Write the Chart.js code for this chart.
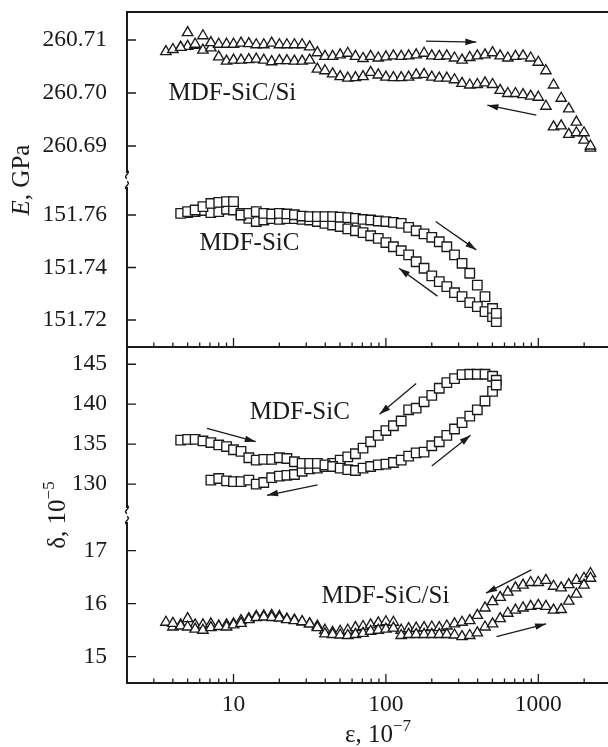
<!DOCTYPE html>
<html>
<head>
<meta charset="utf-8">
<script src="https://cdn.jsdelivr.net/npm/chart.js@4.4.1/dist/chart.umd.min.js"></script>
<style>
    html, body { margin: 0; padding: 0; background: #fff; overflow: hidden; }
    #wrap { width: 640px; height: 747px; }
</style>
</head>
<body>
<div id="wrap"><canvas id="chart" width="640" height="747"></canvas></div>
<script>
// strain amplitude, 10^-7
const epsSiCSi = [3.6, 4.0, 4.5, 5.0, 5.6, 6.3, 7.1, 8.0, 9.0, 10,
    11.2, 12.6, 14.1, 15.8, 17.8, 20, 22.4, 25.1, 28.2, 31.6,
    35.5, 39.8, 44.7, 50.1, 56.2, 63.1, 70.8, 79.4, 89.1, 100,
    112, 126, 141, 158, 178, 200, 224, 251, 282, 316,
    355, 398, 447, 501, 562, 631, 708, 794, 891, 1000,
    1122, 1259, 1413, 1585, 1778, 1995, 2200];
const epsSiC = [4.5, 5.0, 5.6, 6.3, 7.1, 8.0, 9.0, 10, 11.2, 12.6,
    14.1, 15.8, 17.8, 20, 22.4, 25.1, 28.2, 31.6, 35.5, 39.8,
    44.7, 50.1, 56.2, 63.1, 70.8, 79.4, 89.1, 100, 112, 126,
    141, 158, 178, 200, 224, 251, 282, 316, 355, 398,
    447, 501, 530];

// E, GPa  MDF-SiC/Si
const eSiCSiUp = [260.7078, 260.7082, 260.7086, 260.7114, 260.7092, 260.7108, 260.7095, 260.7092, 260.7092, 260.7092,
    260.7094, 260.7093, 260.7091, 260.7091, 260.7094, 260.7091, 260.7091, 260.7091, 260.7091, 260.7087,
    260.7076, 260.7069, 260.7069, 260.7072, 260.7075, 260.7069, 260.7065, 260.7069, 260.7066, 260.7068,
    260.7070, 260.7069, 260.7070, 260.7072, 260.7075, 260.7070, 260.7069, 260.7070, 260.7066, 260.7062,
    260.7067, 260.7070, 260.7072, 260.7076, 260.7070, 260.7066, 260.7069, 260.7070, 260.7066, 260.7058,
    260.7042, 260.7015, 260.6990, 260.6970, 260.6945, 260.6925, 260.6900];
const eSiCSiDown = [null, null, 260.7086, 260.7088, 260.7090, 260.7081, 260.7085, 260.7068, 260.7060, 260.7062,
    260.7062, 260.7063, 260.7064, 260.7062, 260.7059, 260.7061, 260.7061, 260.7060, 260.7060, 260.7062,
    260.7045, 260.7042, 260.7036, 260.7031, 260.7028, 260.7029, 260.7031, 260.7039, 260.7034, 260.7030,
    260.7029, 260.7029, 260.7030, 260.7034, 260.7035, 260.7030, 260.7028, 260.7028, 260.7025, 260.7018,
    260.7015, 260.7016, 260.7019, 260.7016, 260.7005, 260.6999, 260.6999, 260.6997, 260.6994, 260.6992,
    260.6975, 260.6936, 260.6938, 260.6922, 260.6925, 260.6911, 260.6896];

// E, GPa  MDF-SiC
const eSiCUp = [151.7606, 151.7613, 151.7619, 151.7632, 151.7644, 151.7648, 151.7651, 151.7651, 151.7600, 151.7606,
    151.7613, 151.7606, 151.7604, 151.7606, 151.7604, 151.7601, 151.7596, 151.7594, 151.7594, 151.7594,
    151.7594, 151.7592, 151.7590, 151.7587, 151.7583, 151.7581, 151.7577, 151.7575, 151.7572, 151.7568,
    151.7553, 151.7540, 151.7528, 151.7515, 151.7498, 151.7479, 151.7448, 151.7416, 151.7378, 151.7333,
    151.7289, 151.7244, 151.7225];
const eSiCDown = [null, 151.7609, 151.7613, 151.7617, 151.7609, 151.7613, 151.7622, 151.7619, 151.7606, 151.7587,
    151.7575, 151.7581, 151.7586, 151.7583, 151.7586, 151.7586, 151.7583, 151.7581, 151.7575, 151.7568,
    151.7562, 151.7556, 151.7547, 151.7540, 151.7533, 151.7521, 151.7511, 151.7495, 151.7479, 151.7464,
    151.7448, 151.7422, 151.7397, 151.7368, 151.7346, 151.7327, 151.7304, 151.7289, 151.7266, 151.7251,
    151.7232, 151.7213, 151.7194];

// delta, 10^-5  MDF-SiC
const dSiCUp = [135.5, 135.6, 135.6, 135.4, 135.2, 134.9, 134.7, 134.3, 134.1, 133.3,
    133.0, 133.1, 133.1, 133.3, 133.2, 132.8, 132.6, 132.6, 132.6, 132.4,
    132.2, 132.0, 131.8, 131.7, 132.0, 132.2, 132.4, 132.5, 132.7, 133.0,
    133.5, 133.9, 134.0, 134.8, 135.3, 136.1, 136.9, 137.7, 138.5, 139.3,
    140.4, 141.6, 142.4];
const dSiCDown = [null, null, null, null, 130.5, 130.7, 130.4, 130.3, 130.3, 130.5,
    130.0, 130.2, 130.8, 131.0, 131.1, 131.2, 131.6, 131.9, 132.0, 132.2,
    132.6, 133.0, 133.4, 133.8, 134.5, 135.3, 136.1, 136.7, 137.3, 137.9,
    139.3, 139.5, 140.3, 141.1, 142.0, 142.7, 143.2, 143.7, 143.75, 143.75,
    143.75, 143.5, 143.0];

// delta, 10^-5  MDF-SiC/Si
const dSiCSiUp = [15.65, 15.63, 15.58, 15.56, 15.52, 15.50, 15.55, 15.57, 15.56, 15.60,
    15.63, 15.70, 15.74, 15.75, 15.74, 15.73, 15.70, 15.68, 15.66, 15.62,
    15.55, 15.43, 15.42, 15.41, 15.40, 15.42, 15.44, 15.48, 15.50, 15.52,
    15.54, 15.40, 15.42, 15.42, 15.42, 15.42, 15.42, 15.42, 15.41, 15.38,
    15.40, 15.45, 15.56, 15.62, 15.72, 15.82, 15.88, 15.92, 15.95, 15.97,
    15.95, 15.88, 15.89, 16.05, 16.18, 16.35, 16.48];
const dSiCSiDown = [null, 15.56, 15.60, 15.72, 15.60, 15.60, 15.62, 15.58, 15.60, 15.62,
    15.68, 15.72, 15.76, 15.77, 15.78, 15.76, 15.71, 15.69, 15.66, 15.62,
    15.58, 15.50, 15.46, 15.48, 15.50, 15.55, 15.57, 15.60, 15.64, 15.66,
    15.65, 15.50, 15.53, 15.54, 15.55, 15.56, 15.55, 15.58, 15.62, 15.65,
    15.68, 15.78, 15.92, 16.04, 16.12, 16.22, 16.30, 16.35, 16.40, 16.40,
    16.44, 16.33, 16.30, 16.36, 16.44, 16.48, 16.57];

// ticks
const xTicks = [2, 3, 4, 5, 6, 7, 8, 9, 10, 20, 30, 40, 50, 60, 70, 80, 90,
    100, 200, 300, 400, 500, 600, 700, 800, 900, 1000, 2000, 3000];
const xLabels = [10, 100, 1000];
const eHighTicks = [260.69, 260.70, 260.71];
const eLowTicks = [151.72, 151.74, 151.76];
const dHighTicks = [130, 135, 140, 145];
const dLowTicks = [15, 16, 17];

const sampleLabels = [
    { text: 'MDF-SiC/Si', axis: 'yE1', x: 3.74, y: 260.700 },
    { text: 'MDF-SiC', axis: 'yE2', x: 5.97, y: 151.7493 },
    { text: 'MDF-SiC', axis: 'yD1', x: 12.8, y: 139.0 },
    { text: 'MDF-SiC/Si', axis: 'yD2', x: 37.8, y: 16.13 }
];

const arrows = [
    { axis: 'yE1', from: [183, 260.7098], to: [392, 260.7096] },
    { axis: 'yE1', from: [971, 260.6958], to: [463, 260.6977] },
    { axis: 'yE2', from: [212, 151.7575], to: [392, 151.7467] },
    { axis: 'yE2', from: [218, 151.7291], to: [122, 151.7397] },
    { axis: 'yD1', from: [158, 142.6], to: [90.8, 138.75] },
    { axis: 'yD1', from: [6.7, 136.96], to: [14, 135.3] },
    { axis: 'yD1', from: [35.6, 129.9], to: [16.6, 128.6] },
    { axis: 'yD1', from: [200, 132.25], to: [359, 136.1] },
    { axis: 'yD2', from: [900, 16.64], to: [454, 16.2] },
    { axis: 'yD2', from: [532, 15.38], to: [1125, 15.62] }
];

const INK = '#1a1a1a';
const FONT = 'Liberation Serif, Times New Roman, serif';

const pts = (xs, ys) => xs.map((x, i) => ({ x: x, y: ys[i] })).filter(p => p.y !== null);

const series = (data, axis, style) => ({
    data: data,
    yAxisID: axis,
    showLine: false,
    pointStyle: style,
    pointRadius: style === 'triangle' ? 6 : 6.7,
    pointBorderWidth: 1.35,
    pointBorderColor: INK,
    pointBackgroundColor: '#fff'
});

const drawArrow = (ctx, x1, y1, x2, y2) => {
    ctx.beginPath();
    ctx.moveTo(x1, y1);
    ctx.lineTo(x2, y2);
    ctx.stroke();
    const ang = Math.atan2(y2 - y1, x2 - x1);
    const L = 11, W = 3.3;
    ctx.beginPath();
    ctx.moveTo(x2, y2);
    ctx.lineTo(x2 - L * Math.cos(ang) + W * Math.sin(ang), y2 - L * Math.sin(ang) - W * Math.cos(ang));
    ctx.lineTo(x2 - L * Math.cos(ang) - W * Math.sin(ang), y2 - L * Math.sin(ang) + W * Math.cos(ang));
    ctx.closePath();
    ctx.fill();
};

const drawBreak = (ctx, x, y) => {
    ctx.fillStyle = '#fff';
    ctx.fillRect(x - 4, y - 7, 8, 14);
    ctx.lineWidth = 1.4;
    ctx.beginPath();
    [-5.5, 5.5].forEach(dy => {
        ctx.moveTo(x, y + dy - 4);
        ctx.bezierCurveTo(x + 5, y + dy - 1.5, x - 5, y + dy + 1.5, x, y + dy + 4);
    });
    ctx.stroke();
};

// draws text pieces in a row: [text, font, dy]
const drawParts = (ctx, parts, cx, cy, angle) => {
    ctx.save();
    ctx.translate(cx, cy);
    ctx.rotate(angle);
    ctx.textBaseline = 'alphabetic';
    ctx.textAlign = 'left';
    let total = 0;
    parts.forEach(p => { ctx.font = p[1]; total += ctx.measureText(p[0]).width; });
    let x = -total / 2;
    parts.forEach(p => {
        ctx.font = p[1];
        ctx.fillText(p[0], x, p[2]);
        x += ctx.measureText(p[0]).width;
    });
    ctx.restore();
};

const framePlugin = {
    id: 'frame',
    afterDatasetsDraw(chart) {
        const { ctx, scales } = chart;
        ctx.save();
        ctx.strokeStyle = INK;
        ctx.fillStyle = INK;
        ctx.lineWidth = 1.3;
        arrows.forEach(a => {
            const ys = scales[a.axis];
            drawArrow(ctx,
                scales.x.getPixelForValue(a.from[0]), ys.getPixelForValue(a.from[1]),
                scales.x.getPixelForValue(a.to[0]), ys.getPixelForValue(a.to[1]));
        });
        ctx.font = '25px ' + FONT;
        ctx.textBaseline = 'middle';
        ctx.textAlign = 'left';
        sampleLabels.forEach(l => {
            ctx.fillText(l.text, scales.x.getPixelForValue(l.x), scales[l.axis].getPixelForValue(l.y));
        });
        ctx.restore();
    },
    afterDraw(chart) {
        const { ctx, chartArea: a, scales } = chart;
        const xs = scales.x;
        const mid = scales.yE2.bottom;
        ctx.save();
        ctx.strokeStyle = INK;
        ctx.fillStyle = INK;
        ctx.lineWidth = 2;
        ctx.beginPath();
        ctx.moveTo(a.left, a.top); ctx.lineTo(a.right, a.top);
        ctx.moveTo(a.left, mid); ctx.lineTo(a.right, mid);
        ctx.moveTo(a.left, a.bottom); ctx.lineTo(a.right, a.bottom);
        ctx.moveTo(a.left, a.top - 1); ctx.lineTo(a.left, a.bottom + 1);
        ctx.stroke();

        ctx.lineWidth = 1.3;
        ctx.beginPath();
        xs.ticks.forEach(t => {
            const px = xs.getPixelForValue(t.value);
            const len = xLabels.includes(t.value) ? 9 : 4.5;
            [mid, a.bottom].forEach(yb => { ctx.moveTo(px, yb); ctx.lineTo(px, yb - len); });
        });
        ['yE1', 'yE2', 'yD1', 'yD2'].forEach(id => {
            const s = scales[id];
            s.ticks.forEach(t => {
                const py = s.getPixelForValue(t.value);
                ctx.moveTo(a.left, py); ctx.lineTo(a.left + 9, py);
            });
        });
        ctx.stroke();

        [scales.yE1.bottom, scales.yD1.bottom].forEach(yb => {
            drawBreak(ctx, a.left, yb);
            drawBreak(ctx, a.right, yb);
        });

        ctx.fillStyle = INK;
        const f = '25px ' + FONT;
        const fs = '17px ' + FONT;
        drawParts(ctx, [['E', 'italic ' + f, 8], [', GPa', f, 8]], 21, scales.yE1.bottom, -Math.PI / 2);
        drawParts(ctx, [['\u03b4, 10', f, 8], ['\u22125', fs, -3]], 57, scales.yD1.bottom, -Math.PI / 2);
        drawParts(ctx, [['\u03b5, 10', f, 0], ['\u22127', fs, -11]], 378, 742, 0);
        ctx.restore();
    }
};

const tickFont = { family: FONT, size: 23.5 };

const yAxis = (weight, h, min, max, tickList, digits) => ({
    type: 'linear',
    position: 'left',
    stack: 'left',
    stackWeight: h,
    weight: weight,
    min: min,
    max: max,
    grid: { display: false },
    border: { display: false },
    afterBuildTicks: s => { s.ticks = tickList.map(v => ({ value: v })); },
    afterFit: s => { s.width = 127; s.paddingTop = 0; s.paddingBottom = 0; },
    ticks: {
        autoSkip: false,
        font: tickFont,
        color: INK,
        padding: 12,
        callback: v => v.toFixed(digits)
    }
});

const ctx = document.getElementById('chart').getContext('2d');
const chart = new Chart(ctx, {
    type: 'scatter',
    data: {
        datasets: [
            series(pts(epsSiCSi, eSiCSiUp), 'yE1', 'triangle'),
            series(pts(epsSiCSi, eSiCSiDown), 'yE1', 'triangle'),
            series(pts(epsSiC, eSiCUp), 'yE2', 'rect'),
            series(pts(epsSiC, eSiCDown), 'yE2', 'rect'),
            series(pts(epsSiC, dSiCUp), 'yD1', 'rect'),
            series(pts(epsSiC, dSiCDown), 'yD1', 'rect'),
            series(pts(epsSiCSi, dSiCSiUp), 'yD2', 'triangle'),
            series(pts(epsSiCSi, dSiCSiDown), 'yD2', 'triangle')
        ]
    },
    options: {
        responsive: false,
        animation: false,
        devicePixelRatio: 1,
        events: [],
        layout: { padding: { top: 12, right: 29, bottom: 0, left: 0 } },
        plugins: { legend: { display: false }, tooltip: { enabled: false } },
        scales: {
            x: {
                type: 'logarithmic',
                position: 'bottom',
                min: 2,
                max: 3000,
                grid: { display: false },
                border: { display: false },
                afterBuildTicks: s => { s.ticks = xTicks.map(v => ({ value: v })); },
                afterFit: s => { s.height = 64; s.paddingLeft = 0; s.paddingRight = 0; },
                ticks: {
                    autoSkip: false,
                    maxRotation: 0,
                    font: tickFont,
                    color: INK,
                    padding: 0,
                    callback: v => xLabels.includes(v) ? String(v) : ''
                }
            },
            yE1: yAxis(4, 168, 260.68358, 260.71528, eHighTicks, 2),
            yE2: yAxis(3, 167, 151.70971, 151.77333, eLowTicks, 2),
            yD1: yAxis(2, 168, 126.13, 147.16, dHighTicks, 0),
            yD2: yAxis(1, 168, 14.504, 17.674, dLowTicks, 0)
        }
    },
    plugins: [framePlugin]
});
</script>
</body>
</html>
